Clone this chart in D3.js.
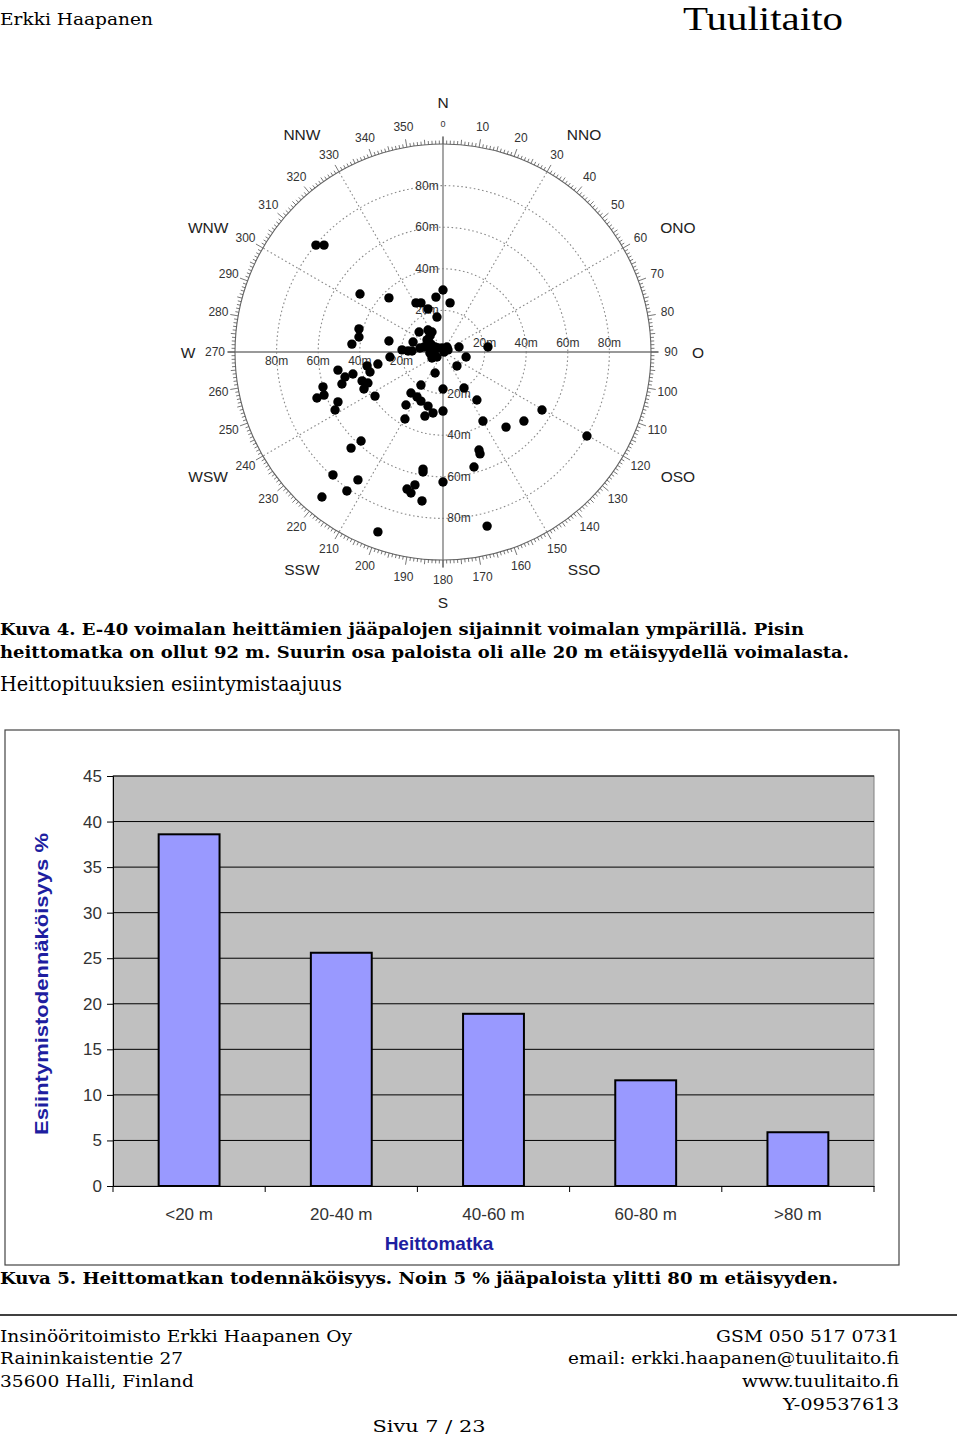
<!DOCTYPE html>
<html><head><meta charset="utf-8">
<script src="https://cdn.jsdelivr.net/npm/d3@7"></script>
<style>body{margin:0;background:#fff}svg{display:block}</style>
</head><body>
<svg id="page" width="960" height="1440"></svg>
<script>
// ---------- DATA ----------
// Ice fragment landing positions relative to the turbine (metres east / metres north)
const impactEast  = [-61.1,-57.2,-39.9,-26.0,0.0,-3.4,3.4,-13.0,-10.6,-7.2,-2.9,-40.4,-40.4,-43.8,-26.0,-11.5,-7.2,-5.3,-14.4,-7.7,-7.2,-9.1,-19.7,-16.8,-14.9,-11.1,-5.3,-3.8,-2.4,-0.5,1.9,2.4,-6.3,-4.3,-2.9,-5.3,0.5,-6.3,-5.8,7.7,11.1,6.7,21.6,-25.5,-31.3,-36.5,-35.1,-50.5,-47.1,-43.3,-48.6,-57.7,-57.2,-60.6,-50.5,-51.9,-38.9,-36.1,-38.0,-32.7,-3.8,-10.6,-15.4,-12.5,-10.6,-7.2,-17.8,-18.3,-8.7,-4.8,0.0,0.0,10.1,16.3,19.2,30.3,38.9,47.6,69.2,17.3,17.8,14.9,0.0,21.2,-39.4,-44.2,-52.9,-40.9,-46.2,-58.2,-9.6,-9.6,-13.5,-17.3,-15.4,-10.1,-31.3];
const impactNorth = [51.4,51.4,27.9,26.0,29.8,26.4,23.6,23.6,23.6,20.7,16.8,11.1,7.2,3.8,5.3,9.6,10.6,9.6,4.8,5.8,3.4,2.4,1.0,0.5,0.5,1.9,1.9,2.4,1.9,1.9,2.4,1.0,-0.5,-1.0,-2.4,-2.9,0.0,7.7,3.8,2.4,-2.4,-6.7,2.4,-2.4,-5.8,-6.7,-9.6,-8.7,-12.0,-10.6,-15.4,-16.8,-20.7,-22.1,-24.0,-27.9,-13.9,-14.9,-17.8,-21.2,-10.1,-15.9,-19.7,-21.6,-23.6,-26.0,-25.5,-32.2,-30.8,-29.3,-17.8,-28.4,-17.3,-23.1,-33.2,-36.1,-33.2,-27.9,-40.4,-47.1,-49.0,-55.3,-62.5,-83.7,-42.8,-46.2,-59.1,-61.5,-66.8,-69.7,-56.3,-57.7,-63.9,-65.9,-67.8,-71.6,-86.5];
const ringDistances = [20, 40, 60, 80];
const compassLabels = ["N","NNO","ONO","O","OSO","SSO","S","SSW","WSW","W","WNW","NNW"];
const compassAngles = [0,33,62,90,118,147,180,213,242,270,298,327];

// Bar chart: frequency of throw distances
const distClasses = ["<20 m","20-40 m","40-60 m","60-80 m",">80 m"];
const distPercent = [38.6, 25.6, 18.9, 11.6, 5.9];
const yTickValues = [0,5,10,15,20,25,30,35,40,45];

// ---------- PAGE ----------
const svg = d3.select("#page");
const serif = "'DejaVu Serif', serif";
const sans = "'Liberation Sans', Arial, sans-serif";

function txt(x, y, s, opts) {
  const t = svg.append("text").attr("x", x).attr("y", y).text(s)
    .attr("font-family", opts.family || serif)
    .attr("font-size", opts.size || 17)
    .attr("font-weight", opts.weight || "normal")
    .attr("fill", opts.fill || "#000")
    .attr("text-anchor", opts.anchor || "start");
  if (opts.len) t.attr("textLength", opts.len).attr("lengthAdjust", "spacingAndGlyphs");
  return t;
}

txt(0, 25, "Erkki Haapanen", {size: 17, len: 153});
txt(843, 30, "Tuulitaito", {family: "'Liberation Serif', serif", size: 34, anchor: "end", len: 160});

// ---------- POLAR SCATTER ----------
const cx = 443, cy = 352, R = 208;
const rScale = d3.scaleLinear().domain([0, 100]).range([0, R]);
const xM = d3.scaleLinear().domain([-100, 100]).range([cx - R, cx + R]);
const yM = d3.scaleLinear().domain([-100, 100]).range([cy + R, cy - R]);
const ang = d3.scaleLinear().domain([0, 360]).range([0, 2 * Math.PI]);
const px = (deg, r) => cx + r * Math.sin(ang(deg));
const py = (deg, r) => cy - r * Math.cos(ang(deg));

const polar = svg.append("g");
// rings
polar.selectAll("circle.ring").data(ringDistances).join("circle")
  .attr("cx", cx).attr("cy", cy).attr("r", d => rScale(d))
  .attr("fill", "none").attr("stroke", "#8a8a8a").attr("stroke-width", 1.1)
  .attr("stroke-dasharray", "1.6,2.6");
// dotted spokes
const spokes = d3.range(0, 360, 30).filter(d => d % 90 !== 0);
polar.selectAll("line.spoke").data(spokes).join("line")
  .attr("x1", cx).attr("y1", cy)
  .attr("x2", d => px(d, R)).attr("y2", d => py(d, R))
  .attr("stroke", "#8a8a8a").attr("stroke-width", 1.1).attr("stroke-dasharray", "1.6,2.6");
// solid axes
[0, 90].forEach(d => {
  polar.append("line")
    .attr("x1", px(d, R + 7)).attr("y1", py(d, R + 7))
    .attr("x2", px(d + 180, R + 7)).attr("y2", py(d + 180, R + 7))
    .attr("stroke", "#777").attr("stroke-width", 1.3);
});
// outer circle
polar.append("circle").attr("cx", cx).attr("cy", cy).attr("r", R)
  .attr("fill", "none").attr("stroke", "#666").attr("stroke-width", 1.1);
// degree ticks
polar.selectAll("line.deg").data(d3.range(0, 360)).join("line")
  .attr("x1", d => px(d, R)).attr("y1", d => py(d, R))
  .attr("x2", d => px(d, R + (d % 10 === 0 ? 8 : d % 5 === 0 ? 5 : 3.5)))
  .attr("y2", d => py(d, R + (d % 10 === 0 ? 8 : d % 5 === 0 ? 5 : 3.5)))
  .attr("stroke", "#555").attr("stroke-width", 0.8);
// degree labels
polar.selectAll("text.deg").data(d3.range(0, 360, 10)).join("text")
  .attr("x", d => px(d, 228)).attr("y", d => py(d, 228))
  .attr("text-anchor", "middle").attr("dominant-baseline", "central")
  .attr("font-family", sans).attr("font-size", d => d === 0 ? 9 : 12)
  .attr("fill", "#333").text(d => d);
// compass labels
const compR = d => d % 180 === 0 ? 250 : d % 90 === 0 ? 255 : (Math.abs(((d + 90) % 180) - 90) < 45 ? 259 : 266);
polar.selectAll("text.comp").data(compassAngles).join("text")
  .attr("x", d => px(d, compR(d)))
  .attr("y", d => py(d, compR(d)))
  .attr("text-anchor", "middle").attr("dominant-baseline", "central")
  .attr("font-family", sans).attr("font-size", 15.5).attr("fill", "#222")
  .text((d, i) => compassLabels[i]);
// ring distance labels on the four axes
const ringLbl = (x, y, s) => polar.append("text").attr("x", x).attr("y", y)
  .attr("text-anchor", "middle").attr("dominant-baseline", "central")
  .attr("font-family", sans).attr("font-size", 12).attr("fill", "#333").text(s);
ringDistances.forEach(r => {
  ringLbl(cx - rScale(r), cy + 9, r + "m");
  ringLbl(cx + rScale(r), cy - 9, r + "m");
  ringLbl(cx - 16, cy - rScale(r), r + "m");
  ringLbl(cx + 16, cy + rScale(r), r + "m");
});
// impact points
polar.selectAll("circle.pt").data(impactEast.map((e, i) => [e, impactNorth[i]])).join("circle")
  .attr("cx", d => xM(d[0])).attr("cy", d => yM(d[1])).attr("r", 4.7).attr("fill", "#000");

// ---------- CAPTIONS ----------
txt(0, 635, "Kuva 4. E-40 voimalan heittämien jääpalojen sijainnit voimalan ympärillä. Pisin", {weight: "bold", size: 17, len: 804});
txt(0, 658, "heittomatka on ollut 92 m. Suurin osa paloista oli alle 20 m etäisyydellä voimalasta.", {weight: "bold", size: 17, len: 849});
txt(0, 691, "Heittopituuksien esiintymistaajuus", {size: 20, len: 342});

// ---------- BAR CHART ----------
const bc = svg.append("g");
bc.append("rect").attr("x", 5).attr("y", 730).attr("width", 894).attr("height", 535)
  .attr("fill", "#fff").attr("stroke", "#444").attr("stroke-width", 1.2);
const x = d3.scaleBand().domain(distClasses).range([113, 874]).paddingInner(0.6).paddingOuter(0.3);
const y = d3.scaleLinear().domain([0, 45]).range([1186, 776]);
bc.append("rect").attr("x", 113).attr("y", y(45)).attr("width", 874 - 113).attr("height", y(0) - y(45))
  .attr("fill", "#c0c0c0").attr("stroke", "#808080").attr("stroke-width", 1);
bc.selectAll("line.grid").data(yTickValues.filter(v => v > 0)).join("line")
  .attr("x1", 113).attr("x2", 874).attr("y1", d => y(d)).attr("y2", d => y(d))
  .attr("stroke", "#000").attr("stroke-width", 1);
bc.selectAll("rect.bar").data(distPercent).join("rect")
  .attr("x", (d, i) => x(distClasses[i])).attr("width", x.bandwidth())
  .attr("y", d => y(d)).attr("height", d => y(0) - y(d))
  .attr("fill", "#9999ff").attr("stroke", "#000").attr("stroke-width", 2);
const yAxis = bc.append("g").attr("transform", "translate(113,0)")
  .call(d3.axisLeft(y).tickValues(yTickValues).tickSize(6).tickPadding(5));
yAxis.select(".domain").attr("stroke", "#000");
yAxis.selectAll("text").attr("font-family", sans).attr("font-size", 17).attr("fill", "#333");
// x axis
const xAxis = bc.append("g").attr("transform", "translate(0,1186)")
  .call(d3.axisBottom(x).tickSize(0).tickPadding(22));
xAxis.select(".domain").attr("stroke", "#000").attr("stroke-width", 1.2);
xAxis.selectAll("text").attr("font-family", sans).attr("font-size", 17).attr("fill", "#333");
const bounds = distClasses.map(c => x(c) - x.step() * x.paddingOuter()).concat([874]);
bc.selectAll("line.xt").data(bounds).join("line")
  .attr("x1", d => d).attr("x2", d => d).attr("y1", 1186).attr("y2", 1192)
  .attr("stroke", "#000");
bc.append("text").attr("x", 439).attr("y", 1250).attr("text-anchor", "middle")
  .attr("font-family", sans).attr("font-size", 19).attr("font-weight", "bold")
  .attr("fill", "#1e1ea0").text("Heittomatka");
bc.append("text").attr("transform", "translate(48,984) rotate(-90)").attr("text-anchor", "middle")
  .attr("font-family", sans).attr("font-size", 19).attr("font-weight", "bold")
  .attr("fill", "#1e1ea0").attr("textLength", 302).attr("lengthAdjust", "spacingAndGlyphs")
  .text("Esiintymistodennäköisyys %");

txt(0, 1284, "Kuva 5. Heittomatkan todennäköisyys. Noin 5 % jääpaloista ylitti 80 m etäisyyden.", {weight: "bold", size: 17, len: 838});

// ---------- FOOTER ----------
svg.append("line").attr("x1", 0).attr("x2", 957).attr("y1", 1315).attr("y2", 1315)
  .attr("stroke", "#000").attr("stroke-width", 1.6);
txt(0, 1342, "Insinööritoimisto Erkki Haapanen Oy", {size: 17, len: 352});
txt(0, 1364, "Raininkaistentie 27", {size: 17, len: 183});
txt(0, 1387, "35600 Halli, Finland", {size: 17, len: 194});
txt(899, 1342, "GSM 050 517 0731", {size: 17, anchor: "end", len: 183});
txt(899, 1364, "email: erkki.haapanen@tuulitaito.fi", {size: 17, anchor: "end", len: 331});
txt(899, 1387, "www.tuulitaito.fi", {size: 17, anchor: "end", len: 157});
txt(899, 1410, "Y-09537613", {size: 17, anchor: "end", len: 116});
txt(429, 1432, "Sivu  7 / 23", {size: 17, anchor: "middle", len: 113});
</script>
</body></html>
